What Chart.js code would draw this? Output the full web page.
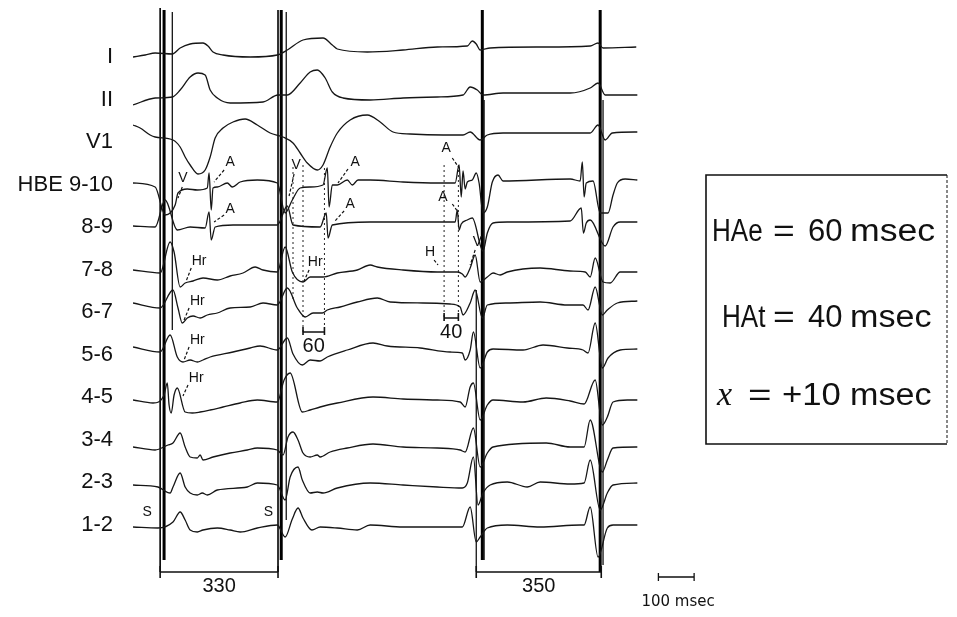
<!DOCTYPE html>
<html>
<head>
<meta charset="utf-8">
<script src="https://cdn.jsdelivr.net/npm/chart.js@4.4.1/dist/chart.umd.min.js"></script>
<style>
  html, body { margin: 0; padding: 0; background: #fff; }
  #wrap { width: 957px; height: 617px; position: relative; }
</style>
</head>
<body>
<div id="wrap"><canvas id="ecg"></canvas></div>
<script>
// Channels, top to bottom
const channels = ['I', 'II', 'V1', 'HBE 9-10', '8-9', '7-8', '6-7', '5-6', '4-5', '3-4', '2-3', '1-2'];

// Traces: [time ms, deflection] (positive = up)
const leadI = [[-76,-2],[-42,0],[-14,2],[34,1],[56,7],[84,11],[120,12],[134,9],[148,3],[176,0],[252,-2],[328,0],[356,5],[400,15],[456,17],[482,10],[496,6],[580,3],[680,5],[776,8],[860,9],[874,14],[885,11],[896,5],[924,7],[1064,8],[1204,9],[1226,12],[1240,7],[1333,8]];
const leadII = [[-76,-2],[-14,5],[34,6],[56,13],[84,26],[106,30],[126,28],[140,13],[160,5],[196,0],[288,1],[330,8],[356,8],[392,20],[420,31],[440,33],[462,25],[482,11],[512,5],[588,3],[680,5],[776,6],[848,8],[868,16],[888,13],[904,8],[960,10],[1148,10],[1204,15],[1226,20],[1246,8],[1336,8]];
const leadV1 = [[-76,10],[-56,7],[-28,0],[-14,-2],[36,-5],[56,-12],[70,-22],[84,-30],[106,-39],[126,-35],[140,-22],[154,-3],[176,7],[204,13],[238,16],[272,10],[308,2],[344,-2],[372,-8],[392,-18],[412,-28],[440,-35],[456,-30],[476,-12],[496,2],[532,15],[580,20],[616,13],[652,3],[700,1],[792,0],[848,0],[868,3],[896,-5],[916,0],[960,2],[1204,2],[1226,10],[1246,-5],[1266,2],[1336,3]];
const hbe910 = [[-76,0],[-14,-4],[14,-32],[42,-22],[50,-10],[76,-6],[104,-7],[132,-5],[137,10],[143,-27],[148,-5],[160,-4],[188,0],[202,-4],[224,1],[272,3],[328,0],[350,-30],[370,-17],[392,-5],[420,-4],[456,-2],[468,15],[473,-24],[482,-2],[496,-2],[524,3],[538,-2],[554,3],[588,3],[680,1],[776,0],[826,0],[837,18],[843,-14],[848,12],[854,-6],[860,1],[874,3],[885,10],[893,0],[904,-30],[916,-24],[930,1],[946,8],[960,2],[1148,4],[1176,2],[1182,21],[1187,-14],[1193,0],[1212,2],[1232,-30],[1254,-30],[1268,-12],[1280,0],[1302,4],[1336,3]];
const hbe89 = [[-76,0],[-14,-1],[14,26],[48,-4],[84,-1],[126,-2],[137,14],[143,-14],[154,-1],[204,1],[328,1],[356,20],[372,1],[448,-1],[465,13],[470,-12],[482,1],[588,4],[826,4],[832,16],[837,-4],[843,2],[860,6],[874,8],[904,-25],[916,-7],[932,3],[972,4],[1148,5],[1179,18],[1185,-7],[1193,3],[1204,6],[1246,-20],[1268,-1],[1288,4],[1336,4]];
const hbe78 = [[-76,2],[0,-1],[28,30],[39,20],[56,-15],[70,-11],[92,-9],[120,-6],[160,-8],[196,-4],[232,-1],[266,5],[288,2],[328,0],[350,25],[370,0],[400,-10],[420,-5],[456,-5],[496,-1],[552,2],[588,7],[608,5],[680,2],[776,0],[832,0],[846,-2],[854,-5],[868,4],[882,17],[896,-10],[916,-5],[932,-1],[952,-3],[972,0],[1064,4],[1148,1],[1190,0],[1204,-5],[1218,14],[1240,-10],[1260,-11],[1288,0],[1336,0]];
const hbe67 = [[-76,0],[0,-5],[36,13],[50,-5],[62,-20],[76,-15],[92,-13],[112,-15],[132,-12],[160,-10],[196,-5],[252,-4],[288,0],[328,-2],[356,15],[384,-5],[406,-14],[428,-10],[454,-10],[468,-7],[504,-4],[552,1],[608,5],[644,1],[736,0],[812,-1],[840,-4],[848,-12],[868,0],[882,13],[902,-15],[916,-2],[972,0],[1064,1],[1140,-2],[1184,-2],[1198,-7],[1218,16],[1238,-12],[1252,-7],[1280,0],[1336,2]];
const hbe56 = [[-76,1],[0,-4],[28,13],[48,-9],[64,-14],[84,-12],[104,-14],[120,-12],[140,-9],[204,-4],[252,0],[280,2],[328,-2],[356,10],[372,-6],[398,-17],[420,-12],[448,-13],[468,-9],[524,-2],[596,5],[636,2],[728,0],[812,-4],[846,-5],[854,-12],[868,-2],[877,16],[896,-20],[916,-4],[932,-1],[1016,-2],[1072,3],[1140,0],[1184,-2],[1198,-5],[1218,25],[1238,-20],[1254,-10],[1288,-2],[1336,-1]];
const hbe45 = [[-76,0],[-20,-3],[11,5],[20,17],[25,-5],[31,-13],[39,5],[48,12],[70,-12],[90,-13],[112,-12],[140,-10],[176,-7],[224,-3],[272,0],[328,-2],[347,20],[364,27],[398,-12],[420,-10],[448,-7],[496,-3],[596,3],[680,1],[776,0],[840,-2],[854,-7],[868,13],[877,17],[896,-20],[916,-5],[932,0],[1016,-2],[1081,2],[1148,-1],[1187,-4],[1218,20],[1238,-25],[1252,-17],[1268,-2],[1308,0],[1336,0]];
const hbe34 = [[-76,0],[-14,-3],[22,2],[36,4],[56,14],[70,0],[84,-10],[104,-11],[112,-8],[120,-13],[148,-10],[196,-6],[244,-3],[272,-1],[328,-3],[344,-8],[358,10],[372,15],[386,7],[400,-6],[420,-10],[440,-8],[448,-10],[476,-5],[524,-1],[596,3],[680,0],[776,-1],[840,-3],[854,-5],[877,19],[896,-20],[916,-6],[932,0],[1081,4],[1148,0],[1187,0],[1204,27],[1238,-25],[1252,-13],[1268,-1],[1336,0]];
const hbe23 = [[-76,0],[-6,-2],[28,-8],[36,-2],[56,12],[70,-2],[84,-8],[104,-10],[118,-8],[132,-10],[160,-5],[244,-2],[272,2],[328,0],[350,-15],[364,8],[386,18],[398,5],[420,-8],[440,-7],[456,-8],[496,-3],[588,2],[680,0],[776,-2],[846,-3],[860,2],[877,28],[890,-20],[904,-8],[924,0],[972,3],[1028,-2],[1064,3],[1148,1],[1187,2],[1204,25],[1232,-25],[1252,-8],[1268,0],[1336,2]];
const hbe12 = [[-76,0],[-6,-1],[36,5],[56,15],[70,7],[84,-3],[104,-5],[120,-3],[160,-1],[196,-3],[224,-5],[272,-1],[328,2],[350,-10],[370,8],[386,19],[400,9],[425,-3],[448,0],[496,-1],[552,-3],[588,2],[680,0],[776,0],[846,0],[868,20],[885,-15],[896,-10],[916,-1],[972,2],[1064,0],[1176,2],[1187,2],[1204,20],[1226,-30],[1252,-1],[1268,2],[1336,2]];

// Stimulus artefacts (ms) and their vertical extent
const stimMs = [0, 11, 34, 330, 339, 353, 885, 902, 907, 1232, 1240];
const stimTop = [8, 10, 12, 10, 10, 12, 290, 10, 100, 10, 100];
const stimBottom = [572, 560, 330, 572, 560, 520, 572, 560, 560, 572, 565];

// His / atrial timing lines (ms)
const timingMs = [372, 400, 460, 795, 835];
const timingTop = [167, 165, 168, 165, 165];
const timingBottom = [300, 332, 332, 318, 318];

// Measured intervals
const cycleIntervals = [[0, 330, '330'], [885, 1235, '350']];
const haIntervals = [[400, 460, '60'], [795, 835, '40']];

// ---- layout (positions / styles) ----
const baselines = [55, 103, 135, 183, 226, 272, 303, 348, 400, 447, 485, 527];
const labelPos = [57, 99.5, 142, 184.5, 227, 269.5, 312, 354.5, 397, 439.5, 482, 524.5];
const stimWidth = [1.6, 3, 1.2, 1.6, 3, 1.2, 1.2, 3, 1.2, 3, 1.2];
const haLevel = [332, 318];
const waveLabels = [
  ['V', 64, 178], ['A', 196, 162], ['A', 196, 209],
  ['Hr', 109, 261], ['Hr', 104, 301], ['Hr', 104, 340], ['Hr', 101, 378],
  ['V', 381, 165], ['A', 546, 162], ['A', 532, 204], ['Hr', 434, 262],
  ['A', 801, 148], ['A', 792, 197], ['H', 756, 252], ['V', 888, 242],
  ['S', -36, 512], ['S', 303, 512]
];
const pointers = [
  [62, 187, 50, 198], [179, 170, 151, 182], [179, 215, 151, 222],
  [87, 268, 73, 281], [81, 308, 67, 320], [81, 347, 67, 360], [78, 385, 64, 396],
  [375, 174, 361, 196], [526, 169, 498, 183], [515, 211, 487, 222], [417, 270, 403, 281],
  [818, 158, 837, 168], [818, 204, 834, 212], [767, 260, 778, 265], [882, 250, 868, 265]
];

const traces = [leadI, leadII, leadV1, hbe910, hbe89, hbe78, hbe67, hbe56, hbe45, hbe34, hbe23, hbe12];

const datasets = traces.map((tr, i) => ({
  label: channels[i],
  data: tr.map(([t, a]) => ({ x: t, y: baselines[i] - a })),
  borderColor: '#161616',
  borderWidth: 1.3,
  pointRadius: 0,
  cubicInterpolationMode: 'monotone',
  fill: false
}));

stimMs.forEach((t, i) => datasets.push({
  data: [{ x: t, y: stimTop[i] }, { x: t, y: stimBottom[i] }],
  borderColor: '#000', borderWidth: stimWidth[i], pointRadius: 0
}));

timingMs.forEach((t, i) => datasets.push({
  data: [{ x: t, y: timingTop[i] }, { x: t, y: timingBottom[i] }],
  borderColor: '#222', borderWidth: 1, borderDash: [2, 3], pointRadius: 0
}));

// Annotations, brackets and the result box
const overlay = {
  id: 'overlay',
  afterDraw(chart) {
    const { ctx } = chart;
    const X = t => chart.scales.x.getPixelForValue(t);
    const Y = v => chart.scales.y.getPixelForValue(v);
    ctx.save();
    ctx.fillStyle = '#111';
    ctx.strokeStyle = '#111';
    ctx.textAlign = 'center';
    ctx.textBaseline = 'middle';

    // 1. wave labels + dashed pointers
    ctx.font = '14px "Liberation Sans", Arial, sans-serif';
    waveLabels.forEach(([txt, t, v]) => ctx.fillText(txt, X(t), Y(v)));
    ctx.lineWidth = 1.2;
    ctx.setLineDash([3, 2]);
    pointers.forEach(([t1, v1, t2, v2]) => {
      ctx.beginPath(); ctx.moveTo(X(t1), Y(v1)); ctx.lineTo(X(t2), Y(v2)); ctx.stroke();
    });
    ctx.setLineDash([]);

    // 2. brackets
    const bracket = (t1, t2, v, up, down) => {
      ctx.beginPath();
      ctx.moveTo(X(t1), Y(v)); ctx.lineTo(X(t2), Y(v));
      ctx.moveTo(X(t1), Y(v) - up); ctx.lineTo(X(t1), Y(v) + down);
      ctx.moveTo(X(t2), Y(v) - up); ctx.lineTo(X(t2), Y(v) + down);
      ctx.stroke();
    };
    ctx.lineWidth = 1.6;
    ctx.font = '20px "Liberation Sans", Arial, sans-serif';
    cycleIntervals.forEach(([a, b, txt]) => {
      bracket(a, b, 572, 6, 6);
      ctx.fillText(txt, (X(a) + X(b)) / 2, Y(586));
    });
    haIntervals.forEach(([a, b, txt], i) => {
      bracket(a, b, haLevel[i], 5, 3);
      ctx.fillText(txt, (X(a) + X(b)) / 2, Y(haLevel[i] + 14));
    });
    // 100 msec scale bar
    ctx.lineWidth = 1.3;
    bracket(1395, 1495, 577, 4, 4);
    ctx.font = '15px "DejaVu Sans", sans-serif';
    ctx.fillText('100 msec', X(1450), Y(602));

    // 3. result box
    ctx.lineWidth = 1.6;
    ctx.beginPath();
    ctx.moveTo(947, 175); ctx.lineTo(706, 175); ctx.lineTo(706, 444); ctx.lineTo(947, 444);
    ctx.stroke();
    ctx.lineWidth = 1;
    ctx.setLineDash([3, 2]);
    ctx.beginPath(); ctx.moveTo(947, 175); ctx.lineTo(947, 444); ctx.stroke();
    ctx.setLineDash([]);

    ctx.textAlign = 'left';
    const sans = '31px "Liberation Sans", Arial, sans-serif';
    const serif = 'italic 34px "Liberation Serif", serif';
    // [text, x, font, horizontal stretch]
    const rows = [
      [232, [['HAe', 712, sans, 0.84], ['=', 773, sans, 1.2], ['60', 808, sans, 1], ['msec', 850, sans, 1.15]]],
      [318, [['HAt', 722, sans, 0.84], ['=', 773, sans, 1.2], ['40', 808, sans, 1], ['msec', 850, sans, 1.1]]],
      [396, [['x', 717, serif, 1], ['=', 748, sans, 1.3], ['+10', 782, sans, 1.12], ['msec', 850, sans, 1.1]]]
    ];
    rows.forEach(([yy, parts]) => parts.forEach(([txt, xx, f, sx]) => {
      ctx.save();
      ctx.font = f;
      ctx.translate(xx, yy);
      ctx.scale(sx, 1);
      ctx.fillText(txt, 0, 0);
      ctx.restore();
    }));
    ctx.restore();
  }
};

new Chart(document.getElementById('ecg').getContext('2d'), {
  type: 'line',
  data: { datasets },
  options: {
    responsive: true,
    maintainAspectRatio: false,
    animation: false,
    layout: { padding: 0 },
    plugins: { legend: { display: false }, tooltip: { enabled: false } },
    scales: {
      x: { type: 'linear', display: false, min: -76, max: 2231 },
      y: {
        type: 'linear', reverse: true, min: 0, max: 617,
        grid: { display: false, drawTicks: false },
        border: { display: false },
        afterBuildTicks: axis => { axis.ticks = labelPos.map(v => ({ value: v })); },
        afterFit: axis => { axis.width = 133; axis.paddingTop = 0; axis.paddingBottom = 0; },
        ticks: {
          autoSkip: false,
          padding: 20,
          color: '#111',
          font: { family: '"Liberation Sans", Arial, sans-serif', size: 22 },
          callback: (v, i) => channels[i]
        }
      }
    }
  },
  plugins: [overlay]
});
</script>
</body>
</html>
